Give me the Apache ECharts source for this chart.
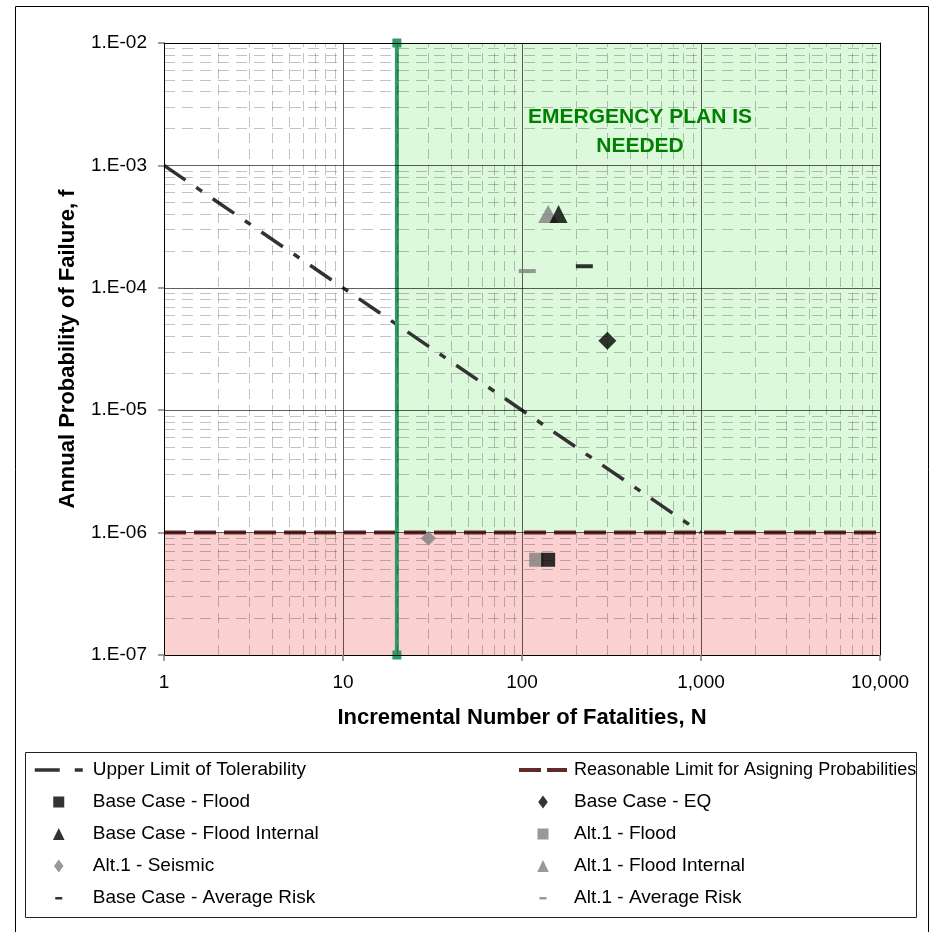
<!DOCTYPE html>
<html><head><meta charset="utf-8">
<script src="https://cdn.jsdelivr.net/npm/echarts@6/dist/echarts.min.js"></script>
<style>html,body{margin:0;padding:0;background:#fff}#c{width:932px;height:932px}</style>
</head><body><div id="c"></div>
<script>
// ---- tick labels ----
const xTicks = [1, 10, 100, 1000, 10000];
const xTickLabels = ['1', '10', '100', '1,000', '10,000'];
const yTicks = [1e-7, 1e-6, 1e-5, 1e-4, 1e-3, 1e-2];
const yTickLabels = ['1.E-07', '1.E-06', '1.E-05', '1.E-04', '1.E-03', '1.E-02'];
const minorSteps = [2, 3, 4, 5, 6, 7, 8, 9];

// ---- reference lines ----
const upperLimitN = [1, 1000];
const upperLimitF = [1e-3, 1e-6];
const reasonableN = [1, 10000];
const reasonableF = [1e-6, 1e-6];
const emergencyN = [20, 20];
const emergencyF = [1e-7, 1e-2];

// ---- shaded zones ----
const greenZoneN = [20, 10000];
const greenZoneF = [1e-6, 1e-2];
const redZoneN = [1, 10000];
const redZoneF = [1e-7, 1e-6];

// ---- points ----
const baseFloodN = [140], baseFloodF = [6.0e-7];
const baseEqN = [300], baseEqF = [3.7e-5];
const baseFloodIntN = [160], baseFloodIntF = [4.0e-4];
const alt1FloodN = [120], alt1FloodF = [6.0e-7];
const alt1SeismicN = [30], alt1SeismicF = [9.0e-7];
const alt1FloodIntN = [140], alt1FloodIntF = [4.0e-4];
const baseAvgN = [223], baseAvgF = [1.5e-4];
const alt1AvgN = [107], alt1AvgF = [1.37e-4];

const zip = (a, b) => a.map((v, i) => [v, b[i]]);
const FONT = '"Liberation Sans", Arial, sans-serif';
const lg = (v, arr) => arr.findIndex(t => Math.abs(Math.log10(t) - Math.log10(v)) < 1e-6);

const xMin = xTicks[0], xMax = xTicks[xTicks.length - 1];
const yMin = yTicks[0], yMax = yTicks[yTicks.length - 1];
const minorX = [], minorY = [];
xTicks.slice(0, -1).forEach(d => minorSteps.forEach(k => minorX.push(d * k)));
yTicks.slice(0, -1).forEach(d => minorSteps.forEach(k => minorY.push(d * k)));
const vLines = vals => vals.map(v => [{coord: [v, yMin]}, {coord: [v, yMax]}]);
const hLines = vals => vals.map(v => [{coord: [xMin, v]}, {coord: [xMax, v]}]);

const ICON = {
  square: 'path://M0,0L0,0.01M1.5,1.5L12.5,1.5L12.5,12.5L1.5,12.5ZM14,14L14,13.99',
  triangle: 'path://M0,0L0,0.01M7,1L12.8,13L1.2,13ZM14,14L14,13.99',
  diamond: 'path://M0,0L0,0.01M7,0.5L11.8,7L7,13.5L2.2,7ZM14,14L14,13.99',
  dash: 'path://M0,0L0,0.01M3.5,6L10.5,6L10.5,8.6L3.5,8.6ZM14,14L14,13.99'
};

const chart = echarts.init(document.getElementById('c'), null, {renderer: 'canvas'});

const axisCommon = {
  type: 'log', logBase: 10, z: 10,
  splitLine: {show: false}, minorTick: {show: false}
};

const option = {
  animation: false,
  backgroundColor: '#fff',
  grid: {left: 164, top: 43, width: 716, height: 612, containLabel: false},
  xAxis: [
    Object.assign({}, axisCommon, {
      min: xMin, max: xMax, position: 'bottom',
      axisLine: {show: true, lineStyle: {color: '#000', width: 1}},
      axisTick: {show: true, length: 6, lineStyle: {color: '#808080', width: 1.5}},
      axisLabel: {margin: 18, fontFamily: FONT, fontSize: 19, color: '#000',
        formatter: v => xTickLabels[lg(v, xTicks)]},
      name: 'Incremental Number of Fatalities, N', nameLocation: 'middle', nameGap: 52,
      nameTextStyle: {fontFamily: FONT, fontSize: 22, fontWeight: 'bold', color: '#000'}
    }),
    Object.assign({}, axisCommon, {
      min: xMin, max: xMax, position: 'top',
      axisLine: {show: true, lineStyle: {color: '#000', width: 1}},
      axisTick: {show: false}, axisLabel: {show: false}
    })
  ],
  yAxis: [
    Object.assign({}, axisCommon, {
      min: yMin, max: yMax, position: 'left',
      axisLine: {show: true, lineStyle: {color: '#000', width: 1}},
      axisTick: {show: true, length: 6, lineStyle: {color: '#808080', width: 1.5}},
      axisLabel: {margin: 17, fontFamily: FONT, fontSize: 19, color: '#000',
        formatter: v => yTickLabels[lg(v, yTicks)]},
      name: 'Annual Probability of Failure, f', nameLocation: 'middle', nameGap: 85,
      nameTextStyle: {fontFamily: FONT, fontSize: 22, fontWeight: 'bold', color: '#000'}
    }),
    Object.assign({}, axisCommon, {
      min: yMin, max: yMax, position: 'right',
      axisLine: {show: true, lineStyle: {color: '#000', width: 1}},
      axisTick: {show: false}, axisLabel: {show: false}
    })
  ],
  legend: [
    {
      orient: 'vertical', left: 33, top: 760, padding: 0,
      itemWidth: 48, itemHeight: 14, itemGap: 12, selectedMode: false,
      textStyle: {fontFamily: FONT, fontSize: 19, lineHeight: 20, color: '#000', padding: [0, 0, 0, 5]},
      data: [
        {name: 'Upper Limit of Tolerability', itemStyle: {opacity: 0},
          lineStyle: {color: '#333', width: 3.5, type: [25, 15, 8, 15], opacity: 1}},
        {name: 'Base Case - Flood', icon: ICON.square},
        {name: 'Base Case - Flood Internal', icon: ICON.triangle},
        {name: 'Alt.1 - Seismic', icon: ICON.diamond},
        {name: 'Base Case - Average Risk', icon: ICON.dash}
      ]
    },
    {
      orient: 'vertical', left: 517, top: 760, padding: 0,
      itemWidth: 48, itemHeight: 14, itemGap: 12, selectedMode: false,
      textStyle: {fontFamily: FONT, fontSize: 19, lineHeight: 20, color: '#000', padding: [0, 0, 0, 2]},
      data: [
        {name: 'Reasonable Limit for Asigning Probabilities', textStyle: {fontSize: 18},
          itemStyle: {opacity: 0},
          lineStyle: {color: '#642828', width: 4, type: [22, 6], opacity: 1}},
        {name: 'Base Case - EQ', icon: ICON.diamond},
        {name: 'Alt.1 - Flood', icon: ICON.square},
        {name: 'Alt.1 - Flood Internal', icon: ICON.triangle},
        {name: 'Alt.1 - Average Risk', icon: ICON.dash}
      ]
    }
  ],
  graphic: [
    {type: 'rect', z: 0, silent: true, shape: {x: 15.5, y: 6.5, width: 913, height: 940},
      style: {fill: 'none', stroke: '#000', lineWidth: 1}},
    {type: 'rect', z: 0, silent: true, shape: {x: 25.5, y: 752.5, width: 891, height: 165},
      style: {fill: 'none', stroke: '#222', lineWidth: 1}},
    {type: 'text', z: 100, silent: true, x: 640, y: 132,
      style: {text: 'EMERGENCY PLAN IS\nNEEDED', align: 'center', verticalAlign: 'middle',
        font: 'bold 21px "Liberation Sans", Arial, sans-serif', lineHeight: 29, fill: '#008000'}}
  ],
  series: [
    {
      name: 'zones', type: 'line', data: [], z: 1, silent: true,
      markArea: {
        silent: true,
        data: [
          [{coord: [greenZoneN[0], greenZoneF[0]], itemStyle: {color: '#dcf9dc'}}, {coord: [greenZoneN[1], greenZoneF[1]]}],
          [{coord: [redZoneN[0], redZoneF[0]], itemStyle: {color: '#fbd0d0'}}, {coord: [redZoneN[1], redZoneF[1]]}]
        ]
      }
    },
    {
      name: 'minorGridX', type: 'line', data: [], z: 2, silent: true,
      markLine: {
        silent: true, symbol: ['none', 'none'], label: {show: false},
        lineStyle: {color: 'rgba(0,0,0,0.24)', width: 1, type: [10, 6]},
        data: vLines(minorX)
      }
    },
    {
      name: 'minorGridY', type: 'line', data: [], z: 2, silent: true,
      markLine: {
        silent: true, symbol: ['none', 'none'], label: {show: false},
        lineStyle: {color: 'rgba(0,0,0,0.24)', width: 1, type: [11, 7]},
        data: hLines(minorY)
      }
    },
    {
      name: 'majorGrid', type: 'line', data: [], z: 2, silent: true,
      markLine: {
        silent: true, symbol: ['none', 'none'], label: {show: false},
        lineStyle: {color: 'rgba(0,0,0,0.62)', width: 1, type: 'solid'},
        data: vLines(xTicks.slice(1, -1)).concat(hLines(yTicks.slice(1, -1)))
      }
    },
    {
      name: 'Reasonable Limit for Asigning Probabilities', type: 'line', z: 3,
      data: zip(reasonableN, reasonableF), symbol: 'none', showSymbol: false,
      itemStyle: {color: '#642828'},
      lineStyle: {color: '#642828', width: 4, type: [22, 8]}
    },
    {
      name: 'Upper Limit of Tolerability', type: 'line', z: 3,
      data: zip(upperLimitN, upperLimitF), symbol: 'none', showSymbol: false,
      itemStyle: {color: '#333'},
      lineStyle: {color: '#333', width: 3.5, type: [26, 13, 7, 13]}
    },
    {
      name: 'emergencyLine', type: 'line', z: 4,
      data: zip(emergencyN, emergencyF), symbol: 'rect', symbolSize: 9, showSymbol: true,
      itemStyle: {color: '#339966'},
      lineStyle: {color: '#339966', width: 4}
    },
    {name: 'Alt.1 - Seismic', type: 'scatter', z: 5, data: zip(alt1SeismicN, alt1SeismicF),
      symbol: 'diamond', symbolSize: [15, 15], itemStyle: {color: '#808080'}},
    {name: 'Alt.1 - Flood', type: 'scatter', z: 5, data: zip(alt1FloodN, alt1FloodF),
      symbol: 'rect', symbolSize: [14, 14], itemStyle: {color: '#808080'}},
    {name: 'Alt.1 - Flood Internal', type: 'scatter', z: 5, data: zip(alt1FloodIntN, alt1FloodIntF),
      symbol: 'triangle', symbolSize: [20, 18], itemStyle: {color: '#808080'}},
    {name: 'Alt.1 - Average Risk', type: 'scatter', z: 5, data: zip(alt1AvgN, alt1AvgF),
      symbol: 'rect', symbolSize: [17, 4], itemStyle: {color: '#808080'}},
    {name: 'Base Case - Flood', type: 'scatter', z: 6, data: zip(baseFloodN, baseFloodF),
      symbol: 'rect', symbolSize: [14, 14], itemStyle: {color: '#000'}},
    {name: 'Base Case - EQ', type: 'scatter', z: 6, data: zip(baseEqN, baseEqF),
      symbol: 'diamond', symbolSize: [18, 18], itemStyle: {color: '#000'}},
    {name: 'Base Case - Flood Internal', type: 'scatter', z: 6, data: zip(baseFloodIntN, baseFloodIntF),
      symbol: 'triangle', symbolSize: [18, 18], itemStyle: {color: '#000'}},
    {name: 'Base Case - Average Risk', type: 'scatter', z: 6, data: zip(baseAvgN, baseAvgF),
      symbol: 'rect', symbolSize: [17, 4], itemStyle: {color: '#000'}}
  ]
};
chart.setOption(option);
</script>
</body></html>
